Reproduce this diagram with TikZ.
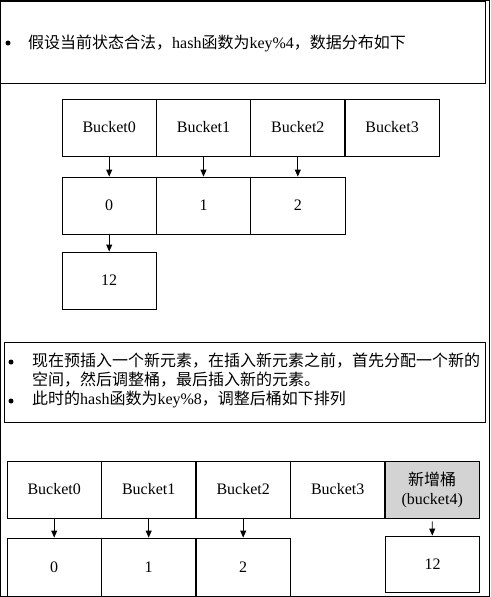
\documentclass[tikz,border=0pt]{standalone}
\usepackage{fontspec}
\setmainfont{Liberation Serif}
\newfontfamily\cjk{Noto Sans CJK SC}
\usetikzlibrary{arrows.meta}
\begin{document}
\begin{tikzpicture}[x=1pt,y=-1pt,
  cell/.style={draw=black,line width=0.9pt,minimum width=94.4pt,minimum height=57pt,inner sep=0pt,font=\fontsize{16}{19}\selectfont,align=center},
  txt/.style={anchor=west,inner sep=0pt,font=\fontsize{16}{19}\selectfont},
  bul/.style={circle,fill=black,inner sep=0pt,minimum size=5pt},
  arr/.style={-{Triangle[length=7pt,width=6pt]},line width=0.9pt},
  frame/.style={draw=black,line width=1pt}]
\useasboundingbox (0,0) rectangle (490,597);
% outer frame and text boxes
\draw[frame] (0.5,0.5) rectangle (489,596.5);
\draw[frame] (0.5,1) rectangle (485,83);
\draw[frame] (4,342) rectangle (485,422);
% first text
\node[bul] (b1) at (8,43) {};
\node[txt] (t1) at (28,43) {{\cjk 假设当前状态合法，}hash{\cjk 函数为}key\%4{\cjk ，数据分布如下}};
% top grid
\node[cell] (A0) at (109.2,127.5) {Bucket0};
\node[cell] (A1) at (203.5,127.5) {Bucket1};
\node[cell] (A2) at (297.8,127.5) {Bucket2};
\node[cell] (A3) at (392.1,127.5) {Bucket3};
\node[cell] (V0) at (109.2,205.5) {0};
\node[cell] (V1) at (203.5,205.5) {1};
\node[cell] (V2) at (297.8,205.5) {2};
\node[cell] (V12) at (109.2,280.5) {12};
\draw[arr] (A0) -- (V0);
\draw[arr] (A1) -- (V1);
\draw[arr] (A2) -- (V2);
\draw[arr] (V0) -- (V12);
% second text
\node[bul] (b2) at (11,362) {};
\node[txt] (s1) at (32,361) {\cjk 现在预插入一个新元素，在插入新元素之前，首先分配一个新的};
\node[txt] (s2) at (32,380) {\cjk 空间，然后调整桶，最后插入新的元素。};
\node[bul] (b3) at (11,401) {};
\node[txt] (s3) at (32,399.5) {{\cjk 此时的}hash{\cjk 函数为}key\%8{\cjk ，调整后桶如下排列}};
% bottom grid
\node[cell] (B0) at (54.2,489.5) {Bucket0};
\node[cell] (B1) at (148.7,489.5) {Bucket1};
\node[cell] (B2) at (243.2,489.5) {Bucket2};
\node[cell] (B3) at (337.7,489.5) {Bucket3};
\node[cell,fill={rgb,255:red,211;green,211;blue,211}] (B4) at (432.2,489.5) {{\cjk 新增桶}\\(bucket4)};
\node[cell,minimum height=58pt] (W0) at (54.2,567) {0};
\node[cell,minimum height=58pt] (W1) at (148.7,567) {1};
\node[cell,minimum height=58pt] (W2) at (243.2,567) {2};
\node[cell,minimum height=56pt] (W12) at (432.5,564) {12};
\draw[arr] (B0) -- (W0);
\draw[arr] (B1) -- (W1);
\draw[arr] (B2) -- (W2);
\draw[arr] (B4.south) ++(0,3) coordinate (c4) (c4) -- (W12);
\end{tikzpicture}
\end{document}
